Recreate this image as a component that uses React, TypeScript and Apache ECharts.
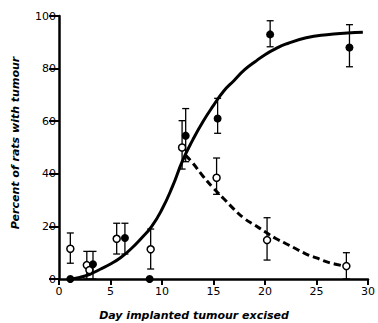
import React, { useEffect, useRef } from "react";
import * as echarts from "echarts";

// Closed circles (filled)
const filledX = [1.1, 3.3, 6.4, 8.8, 12.3, 15.4, 20.5, 28.2];
const filledY = [0, 5.6, 15.6, 0, 54.5, 61, 93, 88];
const filledLow = [null, 0, 9.5, null, 44.6, 55.4, 88.3, 80.7];
const filledHigh = [null, 10.5, 21.2, null, 64.8, 68.7, 98.2, 96.7];

// Open circles
const openX = [1.1, 2.7, 2.95, 5.6, 8.9, 11.95, 15.3, 20.2, 27.9];
const openY = [11.5, 5.3, 3.4, 15.3, 11.3, 50, 38.5, 14.8, 4.9];
const openLow = [6, 0, null, 9.5, 3.8, 41.8, 32.2, 7.2, 0];
const openHigh = [17.5, 10.5, null, 21.2, 19, 60.2, 46, 23.3, 10];

// Fitted curves
const solidCurveX = [1, 2, 3, 4, 5, 6, 7, 8, 9, 10, 11, 12, 13, 14, 15, 16, 17, 18, 19, 20, 21, 22, 24, 26, 28, 29.5];
const solidCurveY = [0, 0.6, 1.8, 3.7, 5.7, 8.2, 11.5, 15.5, 20, 26.5, 35, 45, 53, 60, 66, 71.5, 75.5, 79.5, 82.5, 85.3, 87.5, 89.3, 91.7, 92.9, 93.5, 93.8];
const dashedCurveX = [12.3, 13, 14, 15, 16, 17, 18, 19, 20, 21, 22, 23, 24, 25, 26, 27, 28];
const dashedCurveY = [47, 44, 39, 34.5, 30.5, 26.5, 23, 20.5, 18, 15.5, 13.5, 11.5, 9.5, 8, 6.5, 5.5, 4.6];

const xTicks = [0, 5, 10, 15, 20, 25, 30];
const yTicks = [0, 20, 40, 60, 80, 100];

const xName = "Day implanted tumour excised";
const yName = "Percent of rats with tumour";

function errData(xs: number[], lo: (number | null)[], hi: (number | null)[]) {
  const out: number[][] = [];
  xs.forEach((x, i) => {
    if (lo[i] !== null && hi[i] !== null) out.push([x, lo[i] as number, hi[i] as number]);
  });
  return out;
}

export default function App() {
  const ref = useRef<HTMLDivElement>(null);
  useEffect(() => {
    if (!ref.current) return;
    const chart = echarts.init(ref.current, null, { renderer: "svg" });
    const renderErr = (params: any, api: any) => {
      const x = api.value(0);
      const top = api.coord([x, api.value(2)]);
      const bot = api.coord([x, api.value(1)]);
      const w = 3.5;
      const st = { stroke: "#000", lineWidth: 1.3 };
      return {
        type: "group",
        children: [
          { type: "line", shape: { x1: top[0], y1: top[1], x2: bot[0], y2: bot[1] }, style: st },
          { type: "line", shape: { x1: top[0] - w, y1: top[1], x2: top[0] + w, y2: top[1] }, style: st },
          { type: "line", shape: { x1: bot[0] - w, y1: bot[1], x2: bot[0] + w, y2: bot[1] }, style: st },
        ],
      };
    };
    const axisFont = { fontFamily: "DejaVu Sans", fontSize: 11, color: "#000" };
    const nameStyle = {
      fill: "#000",
      fontFamily: "DejaVu Sans",
      fontSize: 11,
      fontWeight: "bold",
      fontStyle: "italic",
      textAlign: "center",
      textVerticalAlign: "middle",
    };
    chart.setOption({
      animation: false,
      backgroundColor: "#fff",
      grid: { left: 59, right: 7, top: 16, bottom: 44 },
      graphic: [
        { type: "text", x: 194, y: 315, style: { ...nameStyle, text: xName } },
        { type: "text", x: 15, y: 143, rotation: Math.PI / 2, style: { ...nameStyle, text: yName } },
      ],
      xAxis: {
        type: "value",
        min: xTicks[0],
        max: xTicks[xTicks.length - 1],
        interval: 5,
        splitLine: { show: false },
        axisLine: { lineStyle: { color: "#000", width: 2.5 } },
        axisTick: { length: 6, lineStyle: { color: "#000", width: 2 } },
        axisLabel: { ...axisFont, margin: 7 },
      },
      yAxis: {
        type: "value",
        min: yTicks[0],
        max: yTicks[yTicks.length - 1],
        interval: 20,
        splitLine: { show: false },
        axisLine: { show: true, lineStyle: { color: "#000", width: 2.5 } },
        axisTick: { show: true, length: 10, lineStyle: { color: "#000", width: 2 } },
        axisLabel: { ...axisFont, margin: 3 },
      },
      series: [
        {
          type: "line",
          data: solidCurveX.map((x, i) => [x, solidCurveY[i]]),
          smooth: true,
          showSymbol: false,
          lineStyle: { color: "#000", width: 3 },
          z: 2,
        },
        {
          type: "line",
          data: dashedCurveX.map((x, i) => [x, dashedCurveY[i]]),
          smooth: true,
          showSymbol: false,
          lineStyle: { color: "#000", width: 3, type: [7, 4] },
          z: 2,
        },
        {
          type: "custom",
          renderItem: renderErr,
          data: errData(filledX, filledLow, filledHigh),
          z: 3,
          clip: false,
        },
        {
          type: "custom",
          renderItem: renderErr,
          data: errData(openX, openLow, openHigh),
          z: 3,
          clip: false,
        },
        {
          type: "scatter",
          data: openX.map((x, i) => [x, openY[i]]),
          symbol: "circle",
          symbolSize: 7,
          itemStyle: { color: "#fff", borderColor: "#000", borderWidth: 1.5, opacity: 1 },
          z: 4,
        },
        {
          type: "scatter",
          data: filledX.map((x, i) => [x, filledY[i]]),
          symbol: "circle",
          symbolSize: 8,
          itemStyle: { color: "#000", opacity: 1 },
          z: 5,
        },
      ],
    });
    return () => chart.dispose();
  }, []);
  return (
    <div
      ref={ref}
      style={{ position: "fixed", left: 0, top: 0, width: 378, height: 323, background: "#fff" }}
    />
  );
}
